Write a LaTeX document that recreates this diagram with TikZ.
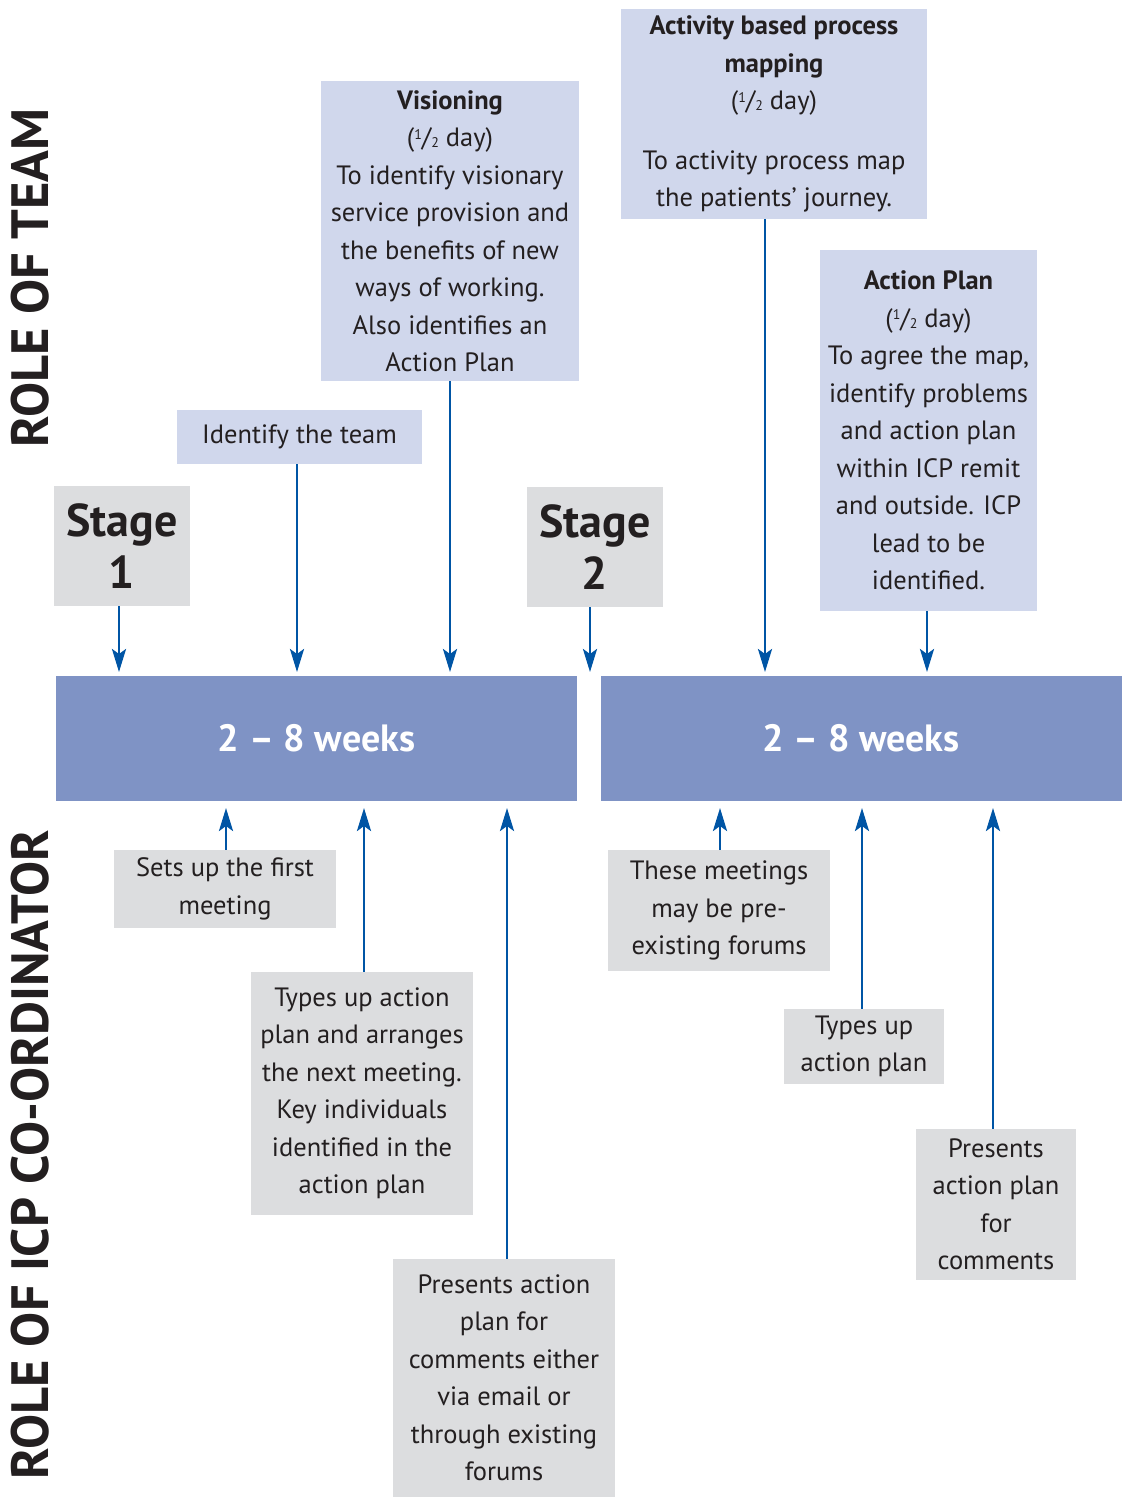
\documentclass[tikz,border=0pt]{standalone}
\usepackage{fontspec}
\setmainfont{PT Sans}
\usetikzlibrary{arrows.meta}
\definecolor{teambox}{HTML}{D0D7EC}
\definecolor{coordbox}{HTML}{DCDDDF}
\definecolor{barblue}{HTML}{7F93C5}
\definecolor{arrowblue}{HTML}{0055A5}
\definecolor{inktext}{HTML}{231F20}
\newcommand{\halfday}{(\raisebox{0.55ex}{\fontsize{14}{14}\selectfont 1}/\raisebox{-0.1ex}{\fontsize{14}{14}\selectfont 2} day)}
\tikzset{
  x=1pt, y=-1pt,
  body/.style={align=center, text=inktext, inner sep=0pt, font=\fontsize{26.5}{37.5}\selectfont},
  teamnote/.style={body, fill=teambox},
  coordnote/.style={body, fill=coordbox},
  stagebox/.style={fill=coordbox, text=inktext, align=center, inner sep=0pt,
    minimum width=136, minimum height=120, font=\bfseries\fontsize{46}{52}\selectfont},
  weekbar/.style={fill=barblue, text=white, inner sep=0pt, minimum width=521, minimum height=125,
    font=\bfseries\fontsize{38}{40}\selectfont},
  sidelabel/.style={rotate=90, text=inktext, font=\bfseries\fontsize{52.5}{54}\selectfont},
  flow/.style={draw=arrowblue, line width=2.8pt, -{Stealth[length=23pt,width=14pt,inset=5pt]}}
}
\begin{document}
\begin{tikzpicture}
\useasboundingbox (0,0) rectangle (1122,1497);

% side headings
\node[sidelabel] (teamlabel) at (30,278) {ROLE OF TEAM};
\node[sidelabel] (coordlabel) at (30,1155) {ROLE OF ICP CO-ORDINATOR};

% the two working periods
\node[weekbar] (bar1) at (316.5,738) {2 -- 8 weeks};
\node[weekbar] (bar2) at (861,738) {2 -- 8 weeks};

% stages
\node[stagebox] (stage1) at (122,546) {Stage\\1};
\node[stagebox] (stage2) at (595,547) {Stage\\2};

% team activities
\node[teamnote, minimum width=245, minimum height=54] (team) at (299.5,437) {Identify the team};
\node[teamnote, minimum width=258, minimum height=300] (vision) at (450,231)
  {\textbf{Visioning}\\\halfday\\To identify visionary\\service provision and\\the benefits of new\\ways of working.\\Also identifies an\\Action Plan};
\node[teamnote, minimum width=306, minimum height=210] (mapping) at (774,114)
  {\textbf{Activity based process}\\\textbf{mapping}\\\halfday\\[22pt]To activity process map\\the patients' journey.};
\node[teamnote, minimum width=217, minimum height=361] (action) at (928.5,430.5)
  {\textbf{Action Plan}\\\halfday\\To agree the map,\\identify problems\\and action plan\\within ICP remit\\and outside. ICP\\lead to be\\identified.};

% co-ordinator tasks
\node[coordnote, minimum width=222, minimum height=78] (firstmeet) at (225,889) {Sets up the first\\meeting};
\node[coordnote, minimum width=222, minimum height=243] (typesup) at (362,1093.5)
  {Types up action\\plan and arranges\\the next meeting.\\Key individuals\\identified in the\\action plan};
\node[coordnote, minimum width=222, minimum height=238] (presents) at (504,1378)
  {Presents action\\plan for\\comments either\\via email or\\through existing\\forums};
\node[coordnote, minimum width=222, minimum height=121] (forums) at (719,910.5)
  {These meetings\\may be pre-\\existing forums};
\node[coordnote, minimum width=160, minimum height=75] (typesplan) at (864,1046.5) {Types up\\action plan};
\node[coordnote, minimum width=160, minimum height=151] (comments) at (996,1204.5)
  {Presents\\action plan\\for\\comments};

% arrows into the first period
\draw[flow] (stage1.south -| 119,0) -- (119,672);
\draw[flow] (team.south -| 297,0) -- (297,672);
\draw[flow] (vision.south -| 450,0) -- (450,672);
% arrows into the second period
\draw[flow] (stage2.south -| 590,0) -- (590,672);
\draw[flow] (mapping.south -| 765,0) -- (765,672);
\draw[flow] (action.south -| 927,0) -- (927,672);

% co-ordinator arrows up to the periods
\draw[flow] (firstmeet.north -| 226,0) -- (226,808);
\draw[flow] (typesup.north -| 364,0) -- (364,808);
\draw[flow] (presents.north -| 507,0) -- (507,808);
\draw[flow] (forums.north -| 720,0) -- (720,808);
\draw[flow] (typesplan.north -| 862,0) -- (862,808);
\draw[flow] (comments.north -| 993,0) -- (993,808);
\end{tikzpicture}
\end{document}
